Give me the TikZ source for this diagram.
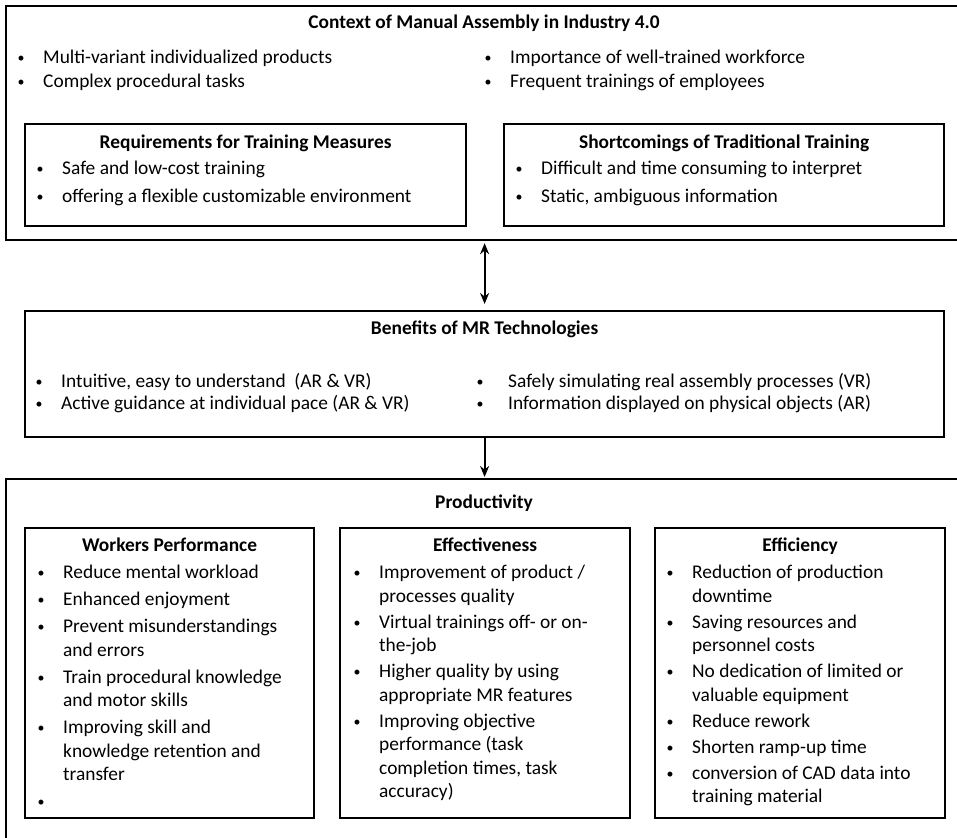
\documentclass[tikz,border=0pt]{standalone}
\usepackage{fontspec}
\setmainfont{Carlito}
\usetikzlibrary{arrows.meta}

\newlength{\bulgap}
\setlength{\bulgap}{22pt}
\newcommand{\bulmark}{\makebox[0pt]{\raisebox{1pt}{\scalebox{0.72}{\textbullet}}}}
\newcommand{\bul}{\makebox[\bulgap][l]{\bulmark}}
\newcommand{\cont}{\hspace*{\bulgap}}
\newcommand{\diagfont}{\fontsize{19.4}{23.5}\selectfont}

\tikzset{
  box/.style={draw=black, line width=2.2pt, rectangle, inner sep=0pt, anchor=north west},
  title/.style={anchor=base, inner sep=0pt, font=\diagfont\bfseries},
  items/.style={anchor=north west, inner sep=0pt, align=left, font=\diagfont},
  link/.style={line width=1.8pt, -{Stealth[length=11pt,width=9pt]}},
}

\begin{document}
\begin{tikzpicture}[x=1pt, y=-1pt]
    \useasboundingbox (0,0) rectangle (957,837);
    \clip (0,0) rectangle (957,837);

    % context block
    \node[box, minimum width=965, minimum height=234] (ctx) at (5,5) {};
    \node[title] (ctxtitle) at (484, 29) {Context of Manual Assembly in Industry 4.0};
    \node[items] (ctxleft) at (21, 50) {\bul Multi-variant individualized products\\
        \bul Complex procedural tasks};
    \node[items] (ctxright) at (488, 50) {\bul Importance of well-trained workforce\\
        \bul Frequent trainings of employees};

    \node[box, minimum width=441, minimum height=102] (req) at (24,123) {};
    \node[title] (reqtitle) at (req.north |- 0,149) {Requirements for Training Measures};
    \node[items] (reqitems) at (40, 161) {\bul Safe and low-cost training\\[4.5pt]
        \bul offering a flexible customizable environment};

    \node[box, minimum width=440, minimum height=102] (shc) at (503,123) {};
    \node[title] (shctitle) at (shc.north |- 0,149) {Shortcomings of Traditional Training};
    \node[items] (shcitems) at (519, 161) {\bul Difficult and time consuming to interpret\\[4.5pt]
        \bul Static, ambiguous information};

    % MR benefits
    \node[box, minimum width=919, minimum height=126] (bene) at (24,310) {};
    \node[title] (benetitle) at (bene.north |- 0,334) {Benefits of MR Technologies};
    \node[items] (beneleft) at (39, 373) {\bul Intuitive, easy to understand~ (AR \& VR)\\[-1.5pt]
        \bul Active guidance at individual pace (AR \& VR)};
    \node[items] (beneright) at (480, 373) {\makebox[28pt][l]{\bulmark}Safely simulating real assembly processes (VR)\\[-1.5pt]
        \makebox[28pt][l]{\bulmark}Information displayed on physical objects (AR)};

    % productivity
    \node[box, minimum width=965, minimum height=400] (prod) at (5,478) {};
    \node[title] (prodtitle) at (484, 508) {Productivity};

    \node[box, minimum width=289, minimum height=290] (wrk) at (24,527) {};
    \node[title] (wrktitle) at (wrk.north |- 0,551) {Workers Performance};
    \node[items] (wrkitems) at (41, 565) {\bul Reduce mental workload\\[3.5pt]
        \bul Enhanced enjoyment\\[3.5pt]
        \bul Prevent misunderstandings\\
        \cont and errors\\[3.5pt]
        \bul Train procedural knowledge\\
        \cont and motor skills\\[3.5pt]
        \bul Improving skill and\\
        \cont knowledge retention and\\
        \cont transfer\\[3.5pt]
        \bul};

    \node[box, minimum width=290, minimum height=290] (eff) at (339,527) {};
    \node[title] (efftitle) at (eff.north |- 0,551) {Effectiveness};
    \node[items] (effitems) at (357, 565) {\bul Improvement of product /\\
        \cont processes quality\\[2.5pt]
        \bul Virtual trainings off- or on-\\
        \cont the-job\\[2.5pt]
        \bul Higher quality by using\\
        \cont appropriate MR features\\[2.5pt]
        \bul Improving objective\\
        \cont performance (task\\
        \cont completion times, task\\
        \cont accuracy)};

    \node[box, minimum width=290, minimum height=290] (efc) at (654,527) {};
    \node[title] (efctitle) at (efc.north |- 0,551) {Efficiency};
    \node[items] (efcitems) at (670, 565) {\bul Reduction of production\\
        \cont downtime\\[2.5pt]
        \bul Saving resources and\\
        \cont personnel costs\\[2.5pt]
        \bul No dedication of limited or\\
        \cont valuable equipment\\[2.5pt]
        \bul Reduce rework\\[2.5pt]
        \bul Shorten ramp-up time\\[2.5pt]
        \bul conversion of CAD data into\\
        \cont training material};

    % arrows
    \draw[link, {Stealth[length=11pt,width=9pt]}-{Stealth[length=11pt,width=9pt]}, shorten <=2pt, shorten >=6pt]
        (ctx.south -| bene.north) -- (bene.north);
    \draw[link, shorten >=1pt] (bene.south) -- (bene.south |- prod.north);
\end{tikzpicture}
\end{document}
